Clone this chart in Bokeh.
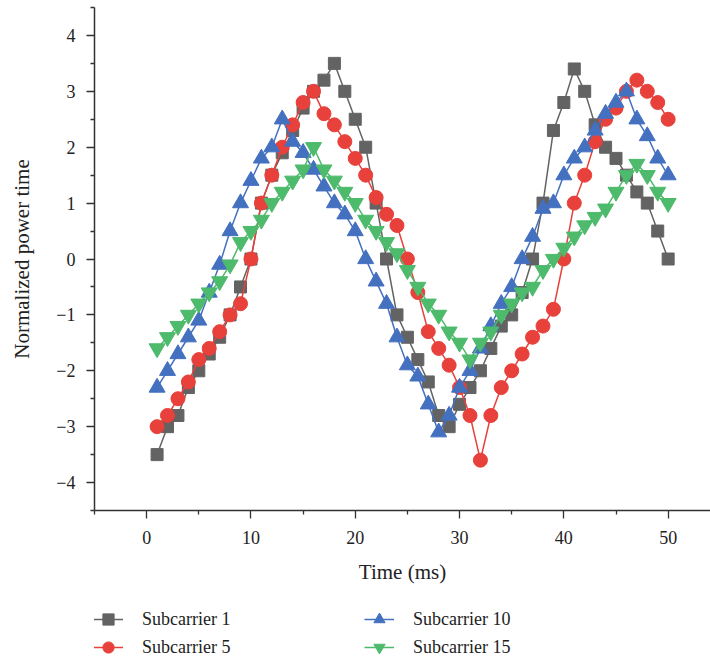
from bokeh.plotting import figure
from bokeh.layouts import column
from bokeh.models import FixedTicker, Legend, LegendItem, Range1d
from bokeh.embed import file_html
from bokeh.resources import INLINE

# ---------------- data ----------------
time_ms = list(range(1, 51))

sub1 = [-3.5, -3.0, -2.8, -2.3, -2.0, -1.7, -1.4, -1.0, -0.5, 0.0,
        1.0, 1.5, 1.9, 2.3, 2.7, 3.0, 3.2, 3.5, 3.0, 2.5,
        2.0, 1.0, 0.0, -1.0, -1.4, -1.8, -2.2, -2.8, -3.0, -2.6,
        -2.3, -2.0, -1.6, -1.2, -1.0, -0.6, 0.0, 1.0, 2.3, 2.8,
        3.4, 3.0, 2.4, 2.0, 1.8, 1.5, 1.2, 1.0, 0.5, 0.0]

sub5 = [-3.0, -2.8, -2.5, -2.2, -1.8, -1.6, -1.3, -1.0, -0.8, 0.0,
        1.0, 1.5, 2.0, 2.4, 2.8, 3.0, 2.6, 2.4, 2.1, 1.8,
        1.5, 1.1, 0.8, 0.6, 0.0, -0.6, -1.3, -1.6, -1.9, -2.3,
        -2.8, -3.6, -2.8, -2.3, -2.0, -1.7, -1.4, -1.2, -0.9, 0.0,
        1.0, 1.5, 2.1, 2.5, 2.7, 3.0, 3.2, 3.0, 2.8, 2.5]

sub10 = [-2.3, -2.0, -1.7, -1.4, -1.1, -0.6, -0.1, 0.5, 1.0, 1.4,
         1.8, 2.0, 2.5, 2.1, 1.9, 1.6, 1.3, 1.0, 0.8, 0.5,
         0.0, -0.4, -0.8, -1.4, -1.9, -2.1, -2.6, -3.1, -2.8, -2.3,
         -2.0, -1.6, -1.2, -0.8, -0.5, 0.0, 0.4, 0.9, 1.0, 1.5,
         1.8, 2.0, 2.3, 2.6, 2.8, 3.0, 2.5, 2.2, 1.8, 1.5]

sub15 = [-1.6, -1.4, -1.2, -1.0, -0.8, -0.6, -0.4, -0.1, 0.3, 0.5,
         0.7, 1.0, 1.2, 1.4, 1.6, 2.0, 1.6, 1.4, 1.2, 1.0,
         0.7, 0.5, 0.3, 0.1, -0.2, -0.5, -0.8, -1.0, -1.3, -1.5,
         -1.8, -1.5, -1.3, -1.0, -0.8, -0.6, -0.5, -0.2, 0.0, 0.2,
         0.4, 0.6, 0.75, 0.9, 1.2, 1.5, 1.7, 1.5, 1.2, 1.0]

series_names = ["Subcarrier 1", "Subcarrier 5", "Subcarrier 10", "Subcarrier 15"]
series_values = [sub1, sub5, sub10, sub15]

x_major = [0, 10, 20, 30, 40, 50]
x_minor = [-5, 5, 15, 25, 35, 45, 55]
y_major = [-4, -3, -2, -1, 0, 1, 2, 3, 4]
y_labels = ["\u22124", "\u22123", "\u22122", "\u22121", "0", "1", "2", "3", "4"]
y_minor = [-4.5, -3.5, -2.5, -1.5, -0.5, 0.5, 1.5, 2.5, 3.5, 4.5]

# ---------------- styles ----------------
colors = ["#636363", "#E8403A", "#4470C0", "#4DBA6C"]
markers = ["square", "circle", "triangle", "inverted_triangle"]
sizes = [12, 14, 16, 16]
FONT = "Liberation Serif"
AX = "#333333"

p = figure(width=710, height=598,
           x_range=Range1d(-5, 54.06), y_range=Range1d(-4.5, 4.5),
           output_backend="svg", toolbar_location=None,
           min_border_left=94, min_border_top=7, min_border_right=0,
           min_border_bottom=88)
p.outline_line_color = None
p.xgrid.visible = False
p.ygrid.visible = False
p.background_fill_color = "white"
p.border_fill_color = "white"

for vals, c, m, s in zip(series_values, colors, markers, sizes):
    p.line(time_ms, vals, line_color=c, line_width=1.5)
    p.scatter(time_ms, vals, marker=m, size=s, fill_color=c, line_color=c)

for ax in (p.xaxis[0], p.yaxis[0]):
    ax.axis_line_color = AX
    ax.axis_line_width = 1.5
    ax.major_tick_line_color = AX
    ax.minor_tick_line_color = AX
    ax.major_tick_line_width = 1.3
    ax.minor_tick_line_width = 1.3
    ax.major_tick_in = 0
    ax.minor_tick_in = 0
    ax.major_tick_out = 8
    ax.minor_tick_out = 4
    ax.major_label_text_font = FONT
    ax.major_label_text_font_size = "18px"
    ax.major_label_text_color = "#222222"
    ax.axis_label_text_font = FONT
    ax.axis_label_text_font_size = "21px"
    ax.axis_label_text_font_style = "normal"
    ax.axis_label_text_color = "#222222"

p.xaxis.ticker = FixedTicker(ticks=x_major, minor_ticks=x_minor)
p.yaxis.ticker = FixedTicker(ticks=y_major, minor_ticks=y_minor)
p.yaxis.major_label_overrides = {float(t): lab for t, lab in zip(y_major, y_labels)}
p.xaxis.axis_label = "Time (ms)"
p.yaxis.axis_label = "Normalized power time"
p.xaxis.major_label_standoff = 12
p.yaxis.major_label_standoff = 11
p.xaxis.axis_label_standoff = 13
p.yaxis.axis_label_standoff = 19

# ---------------- legend (separate strip below) ----------------
# the series are drawn again here but outside the visible range,
# so only their legend glyphs show
q = figure(width=710, height=65, x_range=Range1d(1000, 1001), y_range=Range1d(0, 1),
           output_backend="svg", toolbar_location=None,
           x_axis_location=None, y_axis_location=None,
           min_border_left=0, min_border_right=0, min_border_top=0,
           min_border_bottom=0)
q.outline_line_color = None
q.xgrid.visible = False
q.ygrid.visible = False

items = []
for name, vals, c, m, s in zip(series_names, series_values, colors, markers, sizes):
    l = q.line(time_ms, vals, line_color=c, line_width=1.5)
    g = q.scatter(time_ms, vals, marker=m, size=s, fill_color=c, line_color=c)
    items.append(LegendItem(label=name, renderers=[l, g]))

legend = Legend(items=items, orientation="vertical", nrows=2,
                location=(-1, 2), margin=0, padding=0, spacing=0,
                glyph_width=30, glyph_height=28, label_standoff=19,
                label_width=222, label_text_font=FONT,
                label_text_font_size="18px", label_text_color="#222222",
                border_line_color=None, background_fill_alpha=0)
q.add_layout(legend, "center")

layout = column(p, q, spacing=0)
open("out.html", "w").write(file_html(layout, INLINE))
